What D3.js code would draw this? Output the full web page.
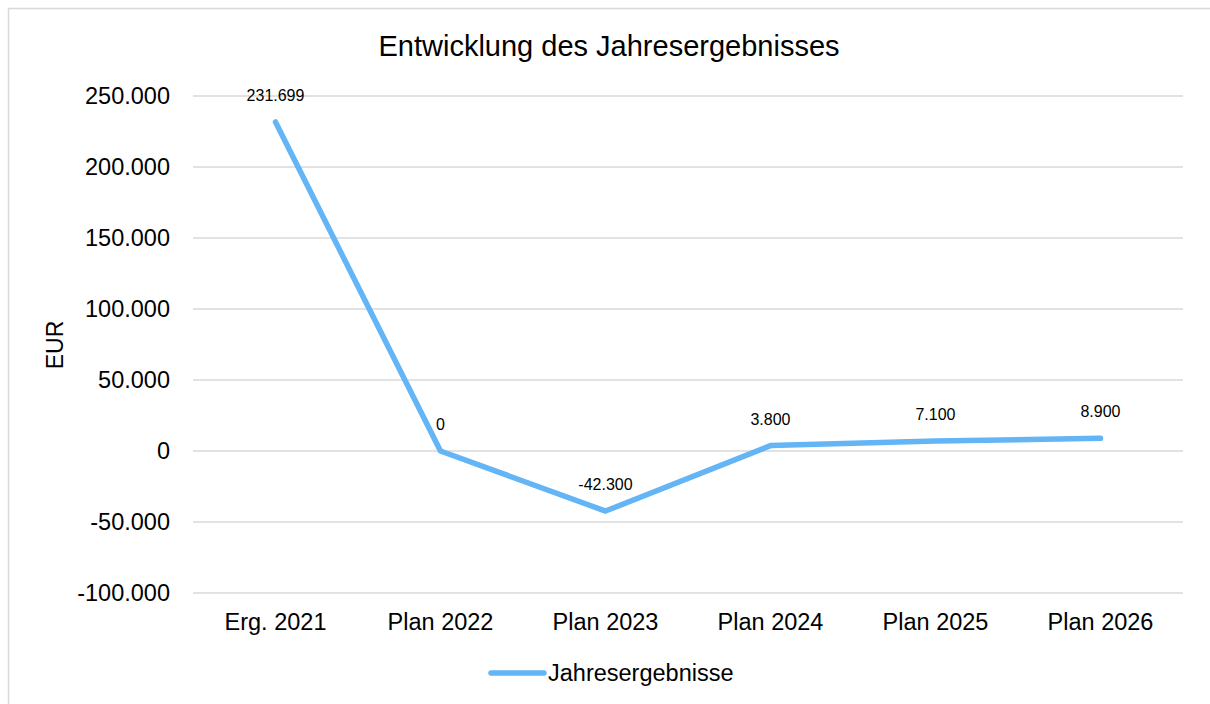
<!DOCTYPE html>
<html>
<head>
<meta charset="utf-8">
<script src="https://cdn.jsdelivr.net/npm/d3@7"></script>
<style>
  html, body { margin: 0; padding: 0; background: #fff; }
  svg { display: block; }
  text { font-family: "Liberation Sans", Arial, Helvetica, sans-serif; fill: #000; }
</style>
</head>
<body>
<svg id="chart" width="1210" height="704"></svg>
<script>
const categories = ["Erg. 2021", "Plan 2022", "Plan 2023", "Plan 2024", "Plan 2025", "Plan 2026"];
const values = [231699, 0, -42300, 3800, 7100, 8900];
const yTicks = [-100000, -50000, 0, 50000, 100000, 150000, 200000, 250000];
const seriesName = "Jahresergebnisse";
const chartTitle = "Entwicklung des Jahresergebnisses";
const yTitle = "EUR";

(function () {
const svg = d3.select("#chart");
const W = 1210, H = 704;
const pLeft = 193, pRight = 1183, pTop = 96, pBottom = 593;
const lineColor = "#64B5F6";

const fmt = v => d3.format(",")(v).replace(/,/g, ".").replace(/\u2212/g, "-");

// outer frame (right/bottom edges off-canvas)
svg.append("rect").attr("x", 8.5).attr("y", 8.5).attr("width", W + 10).attr("height", H + 10)
  .attr("fill", "#fff").attr("stroke", "#d9d9d9").attr("stroke-width", 1.5);

const x = d3.scaleBand().domain(categories).range([pLeft, pRight]);
const y = d3.scaleLinear().domain([-100000, 250000]).range([pBottom, pTop]);

// gridlines
svg.append("g").selectAll("line").data(yTicks).join("line")
  .attr("x1", pLeft).attr("x2", pRight)
  .attr("y1", d => y(d)).attr("y2", d => y(d))
  .attr("stroke", "#d9d9d9").attr("stroke-width", 1.5);

// y axis labels
const yAxis = d3.axisLeft(y).tickValues(yTicks).tickFormat(fmt).tickSize(0).tickPadding(0);
const gy = svg.append("g").attr("transform", `translate(170,0)`).call(yAxis);
gy.select(".domain").remove();
gy.selectAll("text").attr("font-size", 23.5).attr("font-family", "Liberation Sans, Arial, sans-serif").attr("fill", "#000");

// x axis labels
const xAxis = d3.axisBottom(x).tickSize(0).tickPadding(0);
const gx = svg.append("g").attr("transform", `translate(0,${pBottom + 20})`).call(xAxis);
gx.select(".domain").remove();
gx.selectAll("text").attr("font-size", 23.5).attr("font-family", "Liberation Sans, Arial, sans-serif").attr("fill", "#000");

// title
svg.append("text").attr("x", 609).attr("y", 56).attr("text-anchor", "middle")
  .attr("font-size", 29).text(chartTitle);

// y title
svg.append("text").attr("transform", `translate(63,345) rotate(-90)`).attr("text-anchor", "middle")
  .attr("font-size", 23).text(yTitle);

// line
const cx = d => x(d) + x.bandwidth() / 2;
const line = d3.line().x((d, i) => cx(categories[i])).y(d => y(d));
svg.append("path").datum(values).attr("d", line)
  .attr("fill", "none").attr("stroke", lineColor).attr("stroke-width", 5.5)
  .attr("stroke-linecap", "round").attr("stroke-linejoin", "round");

// data labels
svg.append("g").selectAll("text").data(values).join("text")
  .attr("x", (d, i) => cx(categories[i]))
  .attr("y", d => y(d) - 21)
  .attr("text-anchor", "middle").attr("font-size", 16)
  .text(d => fmt(d));

// legend
svg.append("line").attr("x1", 491).attr("x2", 544).attr("y1", 673).attr("y2", 673)
  .attr("stroke", lineColor).attr("stroke-width", 5.5).attr("stroke-linecap", "round");
svg.append("text").attr("x", 548).attr("y", 681).attr("font-size", 23.5).text(seriesName);
})();
</script>
</body>
</html>
